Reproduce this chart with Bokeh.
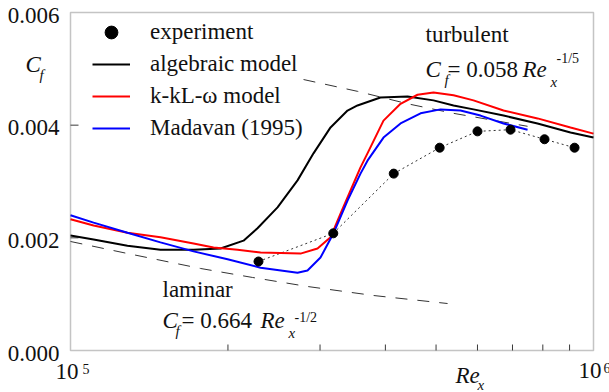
from bokeh.plotting import figure
from bokeh.models import Label, Range1d, BoxAnnotation, LogScale, LinearScale
from bokeh.embed import file_html
from bokeh.resources import INLINE

# ---- data ----
exp_re = [2.288e5, 3.18e5, 4.15e5, 5.08e5, 6.00e5, 6.94e5, 8.06e5, 9.20e5]
exp_cf = [0.00158, 0.00208, 0.00314, 0.00360, 0.00389, 0.00392, 0.00375, 0.00360]

alg_re = [1.000e5, 1.107e5, 1.285e5, 1.486e5, 1.719e5, 1.936e5, 2.142e5, 2.278e5, 2.488e5,
          2.717e5, 2.915e5, 3.142e5, 3.386e5, 3.538e5, 3.914e5, 4.410e5, 4.944e5, 5.400e5,
          5.896e5, 6.729e5, 7.815e5, 9.037e5, 1.0e6]
alg_cf = [0.00204, 0.00197, 0.00186, 0.00179, 0.00179, 0.00181, 0.00195, 0.00217, 0.00254,
          0.00302, 0.00350, 0.00396, 0.00426, 0.00435, 0.00449, 0.00451, 0.00444, 0.00435,
          0.00428, 0.00417, 0.00403, 0.00387, 0.00378]

kkl_re = [1.000e5, 1.107e5, 1.285e5, 1.486e5, 1.719e5, 1.877e5, 2.087e5, 2.309e5, 2.753e5,
          2.967e5, 3.142e5, 3.283e5, 3.431e5, 3.585e5, 3.697e5, 3.967e5, 4.276e5, 4.608e5,
          4.944e5, 5.400e5, 5.896e5, 6.729e5, 7.817e5, 9.037e5, 1.0e6]
kkl_cf = [0.00233, 0.00222, 0.00209, 0.00201, 0.00190, 0.00183, 0.00179, 0.00174, 0.00172,
          0.00181, 0.00201, 0.00243, 0.00284, 0.00325, 0.00350, 0.00408, 0.00438, 0.00454,
          0.00458, 0.00453, 0.00444, 0.00426, 0.00412, 0.00396, 0.00385]

mad_re = [1.000e5, 1.107e5, 1.285e5, 1.486e5, 1.719e5, 1.997e5, 2.309e5, 2.717e5, 2.839e5,
          3.006e5, 3.183e5, 3.386e5, 3.585e5, 3.697e5, 3.967e5, 4.276e5, 4.670e5, 5.099e5,
          5.568e5, 6.080e5, 6.729e5, 7.480e5]
mad_cf = [0.00240, 0.00227, 0.00209, 0.00192, 0.00176, 0.00162, 0.00147, 0.00138, 0.00142,
          0.00165, 0.00208, 0.00266, 0.00314, 0.00337, 0.00378, 0.00403, 0.00421, 0.00428,
          0.00426, 0.00417, 0.00403, 0.00392]

lam_re = [1.000e5, 1.285e5, 1.773e5, 2.23e5, 2.84e5, 3.80e5, 5.26e5]
lam_cf = [0.001935, 0.001722, 0.001456, 0.001296, 0.001136, 0.000976, 0.000834]

turb_re = [2.79e5, 3.54e5, 4.41e5, 5.40e5, 7.48e5]
turb_cf = [0.00481, 0.00460, 0.00438, 0.00421, 0.00398]

y_ticks = [0.0, 0.002, 0.004, 0.006]
y_tick_labels = ["0.000", "0.002", "0.004", "0.006"]
x_minor = [2e5, 3e5, 4e5, 5e5, 6e5, 7e5, 8e5, 9e5]
X_MIN, X_MAX = 1e5, 1e6
Y_MIN, Y_MAX = 0.0, 0.006

# ---- layout (pixels) ----
W, H = 609, 392
FL, FR, FT, FB = 70, 593, 12, 350          # visible box inside the canvas
dec_px = (FR - FL)                          # pixels per decade
ypx = (FB - FT) / (Y_MAX - Y_MIN)           # pixels per unit of Cf

SERIF = "Liberation Serif, Times New Roman, DejaVu Serif, serif"
TXT = "#111111"
FRAME = "#3a3a3a"

p = figure(width=W, height=H, x_axis_type="log",
           x_axis_location=None, y_axis_location=None,
           x_range=Range1d(X_MIN / 10 ** (FL / dec_px), X_MAX * 10 ** ((W - FR) / dec_px)),
           y_range=Range1d(Y_MIN - (H - FB) / ypx, Y_MAX + FT / ypx),
           output_backend="svg", toolbar_location=None,
           min_border=0, min_border_left=0, min_border_right=0,
           min_border_top=0, min_border_bottom=0)
p.x_scale = LogScale()
p.y_scale = LinearScale()
p.background_fill_color = "white"
p.border_fill_color = "white"
p.outline_line_color = None
p.grid.visible = False

# plot box
p.add_layout(BoxAnnotation(left=X_MIN, right=X_MAX, bottom=Y_MIN, top=Y_MAX,
                           fill_alpha=0, fill_color=None,
                           line_color=FRAME, line_width=1.5))

# tick marks (inward)
tick_x_len = 6 / ypx
p.segment(x0=x_minor, y0=[Y_MIN] * len(x_minor), x1=x_minor,
          y1=[Y_MIN + tick_x_len] * len(x_minor), line_color=FRAME, line_width=1)
inner_y = y_ticks[1:-1]
p.segment(x0=[X_MIN] * len(inner_y), y0=inner_y,
          x1=[X_MIN * 10 ** (8 / dec_px)] * len(inner_y), y1=inner_y,
          line_color=FRAME, line_width=1)

# reference lines
p.line(lam_re, lam_cf, line_color="#333333", line_width=1, line_dash="12 10")
p.line(turb_re, turb_cf, line_color="#333333", line_width=1, line_dash="12 10")
p.line(exp_re, exp_cf, line_color="#333333", line_width=1, line_dash="2 3")

# curves
p.line(alg_re, alg_cf, line_color="black", line_width=2, legend_label="algebraic model")
p.line(kkl_re, kkl_cf, line_color="#ff0000", line_width=2, legend_label="k-kL-ω model")
p.line(mad_re, mad_cf, line_color="#0000ff", line_width=2, legend_label="Madavan (1995)")
p.scatter(exp_re, exp_cf, marker="circle", size=9, fill_color="black", line_color="black",
          legend_label="experiment")

leg = p.legend[0]
leg.items = [leg.items[3], leg.items[0], leg.items[1], leg.items[2]]
leg.location = (92, 248)
leg.margin = 0
leg.padding = 0
leg.spacing = 0
leg.glyph_width = 38
leg.glyph_height = 32
leg.label_height = 32
leg.label_standoff = 20
leg.label_text_font = SERIF
leg.label_text_font_size = "23px"
leg.label_text_color = TXT
leg.background_fill_alpha = 0
leg.border_line_alpha = 0


def lab(x, y, text, size="23px", style="normal"):
    p.add_layout(Label(x=x, y=y, x_units="screen", y_units="screen", text=text,
                       text_font=SERIF, text_font_size=size, text_font_style=style,
                       text_color=TXT, text_align="left", text_baseline="alphabetic"))


# y tick labels, anchored at the ticks
for t, s in zip(y_ticks, y_tick_labels):
    p.add_layout(Label(x=X_MIN, y=t, x_offset=-11, y_offset=-2.5, text=s,
                       text_font=SERIF, text_font_size="23px", text_color=TXT,
                       text_align="right", text_baseline="alphabetic"))

# x tick labels 10^5, 10^6
for xv, sup, dy, dx in [(X_MIN, "5", 0, 12), (X_MAX, "6", 1, 10)]:
    p.add_layout(Label(x=xv, y=Y_MIN, x_offset=-15, y_offset=-21 + dy, text="10",
                       text_font=SERIF, text_font_size="23px", text_color=TXT,
                       text_align="left", text_baseline="alphabetic"))
    p.add_layout(Label(x=xv, y=Y_MIN, x_offset=dx, y_offset=-18 + dy, text=sup,
                       text_font=SERIF, text_font_size="14px", text_color=TXT,
                       text_align="left", text_baseline="alphabetic"))

# turbulent annotation
lab(425, 358, "turbulent")
lab(425, 323, "C", style="italic")
lab(444, 313, "f", size="15px", style="italic")
lab(447, 323, "= 0.058")
lab(522, 323, "Re", style="italic")
lab(550, 311, "x", size="15px", style="italic")
lab(556, 334, "-1/5", size="14px")

# laminar annotation
lab(162, 103, "laminar")
lab(162, 72, "C", style="italic")
lab(175, 62, "f", size="15px", style="italic")
lab(181, 72, "= 0.664")
lab(260, 72, "Re", style="italic")
lab(288, 60, "x", size="15px", style="italic")
lab(294, 75, "-1/2", size="14px")

# axis titles
lab(25, 328, "C", style="italic")
lab(39, 318, "f", size="15px", style="italic")
lab(455, 17, "Re", style="italic")
lab(477, 8, "x", size="15px", style="italic")

open("out.html", "w").write(file_html(p, INLINE))
